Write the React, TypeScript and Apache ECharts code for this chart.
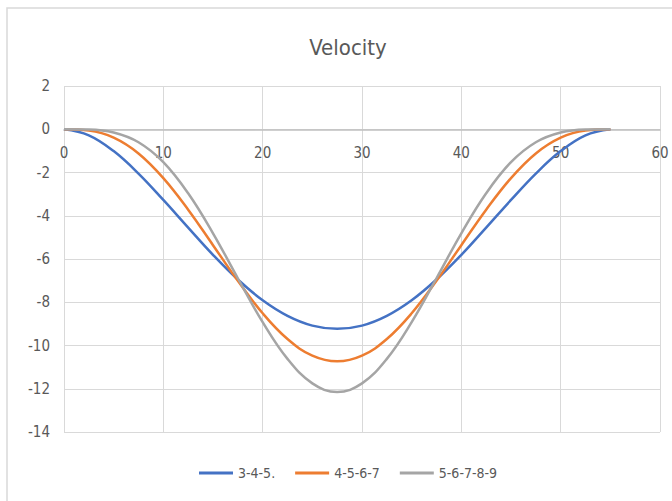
import React, { useEffect, useRef } from "react";
import * as echarts from "echarts";

const xValues = [0, 2.5, 5, 7.5, 10, 12.5, 15, 17.5, 20, 22.5, 25, 27.5, 30, 32.5, 35, 37.5, 40, 42.5, 45, 47.5, 50, 52.5, 55];
const seriesNames = ["3-4-5.", "4-5-6-7", "5-6-7-8-9"];
const v345 = [0, -0.28, -1.01, -2.05, -3.27, -4.55, -5.81, -6.95, -7.91, -8.63, -9.08, -9.23, -9.08, -8.63, -7.91, -6.95, -5.81, -4.55, -3.27, -2.05, -1.01, -0.28, 0];
const v4567 = [0, -0.06, -0.39, -1.12, -2.26, -3.72, -5.36, -7.01, -8.51, -9.70, -10.47, -10.73, -10.47, -9.70, -8.51, -7.01, -5.36, -3.72, -2.26, -1.12, -0.39, -0.06, 0];
const v56789 = [0, -0.01, -0.15, -0.60, -1.52, -2.96, -4.81, -6.89, -8.92, -10.62, -11.75, -12.15, -11.75, -10.62, -8.92, -6.89, -4.81, -2.96, -1.52, -0.60, -0.15, -0.01, 0];
const colors = ["#4472C4", "#ED7D31", "#A5A5A5"];

const FONT = "'DejaVu Sans Condensed', 'Liberation Sans Narrow', 'Open Sans', sans-serif";

export default function App() {
  const ref = useRef<HTMLDivElement>(null);
  useEffect(() => {
    if (!ref.current) return;
    const chart = echarts.init(ref.current, null, { renderer: "svg" });
    const all = [v345, v4567, v56789];
    chart.setOption({
      animation: false,
      backgroundColor: "#ffffff",
      title: {
        text: "Velocity",
        left: 343,
        top: 31,
        textAlign: "center",
        textStyle: { fontFamily: FONT, fontSize: 22, fontWeight: "normal", color: "#595959" },
      },
      graphic: [
        {
          type: "rect",
          shape: { x: 7, y: 8, width: 700, height: 520 },
          style: { fill: "none", stroke: "#d9d9d9", lineWidth: 1.5 },
          silent: true,
          z: -1,
        },
      ],
      legend: {
        bottom: 16,
        left: 194,
        data: seriesNames,
        icon: "rect",
        itemWidth: 34,
        itemHeight: 3,
        itemGap: 20,
        textStyle: { fontFamily: FONT, fontSize: 14, color: "#595959" },
      },
      grid: { left: 64, right: 12, top: 86, bottom: 69, containLabel: false },
      xAxis: {
        type: "value",
        min: 0,
        max: 60,
        interval: 10,
        axisLine: { show: true, onZero: true, lineStyle: { color: "#bfbfbf", width: 1.5 } },
        axisTick: { show: false },
        axisLabel: { margin: -287, color: "#595959", fontFamily: FONT, fontSize: 15 },
        splitLine: { show: true, lineStyle: { color: "#d9d9d9", width: 1 } },
      },
      yAxis: {
        type: "value",
        min: -14,
        max: 2,
        interval: 2,
        axisLine: { show: false },
        axisTick: { show: false },
        axisLabel: { margin: 14, color: "#595959", fontFamily: FONT, fontSize: 15 },
        splitLine: { show: true, lineStyle: { color: "#d9d9d9", width: 1 } },
      },
      series: seriesNames.map((name, i) => ({
        name,
        type: "line",
        data: xValues.map((x, j) => [x, all[i][j]]),
        smooth: 0.4,
        showSymbol: false,
        symbol: "none",
        lineStyle: { color: colors[i], width: 2.5 },
        itemStyle: { color: colors[i] },
        z: 3 + i,
      })),
    });
    return () => chart.dispose();
  }, []);
  return <div ref={ref} style={{ position: "absolute", left: 0, top: 0, width: 672, height: 501 }} />;
}
